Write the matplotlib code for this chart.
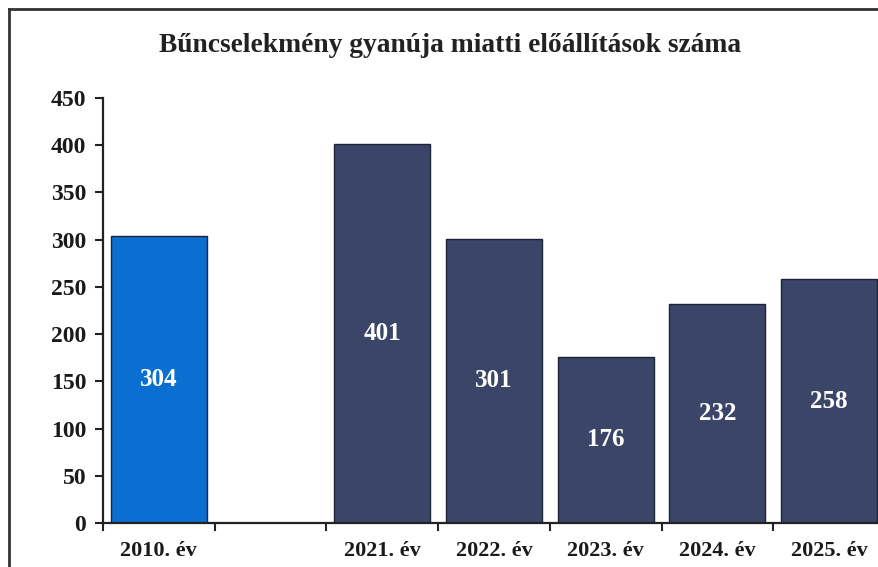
import matplotlib
matplotlib.use("Agg")
import matplotlib.pyplot as plt
from matplotlib.lines import Line2D
import numpy as np

categories = ["2010. év", "", "2021. év", "2022. év", "2023. év", "2024. év", "2025. év"]
values = [304, None, 401, 301, 176, 232, 258]
colors = ["#0b6fd2", None, "#3b4568", "#3b4568", "#3b4568", "#3b4568", "#3b4568"]
yticks = [0, 50, 100, 150, 200, 250, 300, 350, 400, 450]
title = "Bűncselekmény gyanúja miatti előállítások száma"

plt.rcParams['font.family'] = ['Liberation Serif', 'DejaVu Serif']

fig = plt.figure(figsize=(8.79, 5.67), dpi=100)
fig.patch.set_facecolor("white")
ax = fig.add_axes([103/879, 1-523/567, (885-103)/879, (523-98)/567])
ax.set_facecolor("none")

x = np.arange(len(categories))
for xi, v, c in zip(x, values, colors):
    if v is None:
        continue
    ax.bar(xi, v, width=0.86, color=c, edgecolor="#1c2338", linewidth=1.0, zorder=2)
    ax.text(xi, v/2, str(v), ha="center", va="center", color="white",
            fontsize=18, fontweight="bold", zorder=3)

ax.set_xlim(-0.5, len(categories)-0.5)
ax.set_ylim(0, 450)
ax.set_yticks(yticks)
ax.set_yticklabels([str(t) for t in yticks], fontsize=17, fontweight="bold", color="#1a1a1a")
ax.set_xticks(x)
ax.set_xticklabels(categories, fontsize=16, fontweight="bold", color="#1a1a1a")
ax.tick_params(axis="x", length=0, pad=13)
ax.set_xticks(np.arange(len(categories)+1) - 0.5, minor=True)
ax.tick_params(axis="x", which="minor", length=6, width=1.5, direction="out", color="#222222")
ax.tick_params(axis="y", length=6, width=1.5, direction="out", color="#222222", pad=6)
for s in ["top", "right"]:
    ax.spines[s].set_visible(False)
for s in ["left", "bottom"]:
    ax.spines[s].set_linewidth(1.6)
    ax.spines[s].set_color("#222222")

fig.text(450/879, 1-45/567, title, ha="center", va="center", fontsize=19.8,
         fontweight="bold", color="#222222")

# outer frame
fig.add_artist(Line2D([9/879, 1.0], [1-9/567, 1-9/567], transform=fig.transFigure,
                      color="#333333", linewidth=2.0))
fig.add_artist(Line2D([9/879, 9/879], [0, 1-9/567], transform=fig.transFigure,
                      color="#333333", linewidth=2.0))

fig.savefig("out.png", dpi=100)
